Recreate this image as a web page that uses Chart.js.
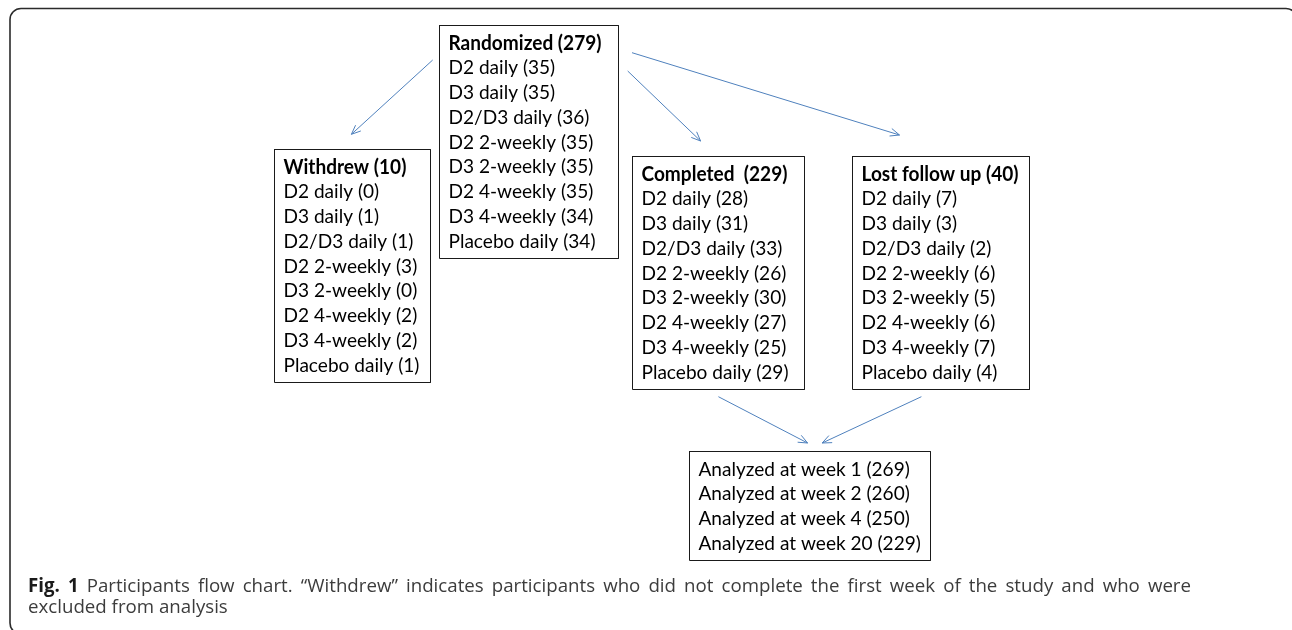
<!DOCTYPE html>
<html>
<head>
<meta charset="utf-8">
<title>Participants flow chart</title>
<script src="https://cdn.jsdelivr.net/npm/chart.js@4.4.1/dist/chart.umd.min.js"></script>
<style>
    html, body { margin: 0; padding: 0; background: #fff; }
    #wrap { position: relative; width: 1292px; height: 630px; }
</style>
</head>
<body>
<div id="wrap"><canvas id="flowChart"></canvas></div>
<script>
// flow chart data
const arms = ['D2 daily', 'D3 daily', 'D2/D3 daily', 'D2 2-weekly', 'D3 2-weekly', 'D2 4-weekly', 'D3 4-weekly', 'Placebo daily'];
const randomized = [35, 35, 36, 35, 35, 35, 34, 34];
const withdrew = [0, 1, 1, 3, 0, 2, 2, 1];
const completed = [28, 31, 33, 26, 30, 27, 25, 29];
const lostFollowUp = [7, 3, 2, 6, 5, 6, 7, 4];
const analyzedWeeks = [1, 2, 4, 20];
const analyzedCounts = [269, 260, 250, 229];

const captionBold = 'Fig. 1';
const captionLine1 = 'Participants flow chart. \u201cWithdrew\u201d indicates participants who did not complete the first week of the study and who were';
const captionLine2 = 'excluded from analysis';

const sum = arr => arr.reduce((a, b) => a + b, 0);

function armLines(values) {
    return arms.map((a, i) => `${a} (${values[i]})`);
}

// layout (in chart units; the scales map 0..1292 x 0..630)
const boxes = [
    { title: `Randomized (${sum(randomized)})`, lines: armLines(randomized), x0: 439.5, y0: 25.5, x1: 618.5, y1: 258.5 },
    { title: `Withdrew (${sum(withdrew)})`, lines: armLines(withdrew), x0: 274.5, y0: 149.5, x1: 430.5, y1: 382.5 },
    { title: `Completed  (${sum(completed)})`, lines: armLines(completed), x0: 632.5, y0: 156.5, x1: 804.5, y1: 389.5 },
    { title: `Lost follow up (${sum(lostFollowUp)})`, lines: armLines(lostFollowUp), x0: 852.5, y0: 156.5, x1: 1029.5, y1: 389.5 },
    { title: null, lines: analyzedWeeks.map((w, i) => `Analyzed at week ${w} (${analyzedCounts[i]})`), x0: 689.5, y0: 451.5, x1: 930.5, y1: 560.5 }
];

const arrows = [
    { from: [432.7, 60], to: [351.4, 134.3] },
    { from: [627.7, 71], to: [700.6, 141] },
    { from: [632, 52.7], to: [899.5, 135] },
    { from: [718.4, 396.7], to: [807.6, 443] },
    { from: [921.4, 396.7], to: [822.2, 443] }
];

const BOX_COLOR = '#1a1a1a';
const ARROW_COLOR = '#4f81bd';
const BOX_FONT = 'Lato, "Open Sans", sans-serif';
const CAPTION_FONT = '"Open Sans", "Noto Sans", sans-serif';

function rectPoints(b) {
    return [
        { x: b.x0, y: b.y0 }, { x: b.x1, y: b.y0 },
        { x: b.x1, y: b.y1 }, { x: b.x0, y: b.y1 }, { x: b.x0, y: b.y0 - 0.5 }
    ];
}

function arrowHead(from, to, len, ang) {
    const a = Math.atan2(to[1] - from[1], to[0] - from[0]);
    const w1 = { x: to[0] - len * Math.cos(a - ang), y: to[1] - len * Math.sin(a - ang) };
    const w2 = { x: to[0] - len * Math.cos(a + ang), y: to[1] - len * Math.sin(a + ang) };
    return [w1, { x: to[0], y: to[1] }, w2];
}

const datasets = [];
boxes.forEach(b => {
    datasets.push({ data: rectPoints(b), borderColor: BOX_COLOR, borderWidth: 1 });
});
arrows.forEach(ar => {
    datasets.push({ data: [{ x: ar.from[0], y: ar.from[1] }, { x: ar.to[0], y: ar.to[1] }], borderColor: ARROW_COLOR, borderWidth: 1 });
    datasets.push({ data: arrowHead(ar.from, ar.to, 10, 0.4), borderColor: ARROW_COLOR, borderWidth: 1 });
});
datasets.forEach(d => {
    d.showLine = true;
    d.pointRadius = 0;
    d.fill = false;
    d.tension = 0;
    d.borderJoinStyle = 'miter';
});

// outer rounded frame, drawn before the datasets
const framePlugin = {
    id: 'frame',
    beforeDatasetsDraw(chart) {
        const { ctx, scales: { x, y } } = chart;
        ctx.save();
        ctx.strokeStyle = '#2b2b2b';
        ctx.lineWidth = 1.6;
        ctx.beginPath();
        const l = x.getPixelForValue(10), t = y.getPixelForValue(8.5);
        const r = x.getPixelForValue(1297), b = y.getPixelForValue(634);
        ctx.roundRect(l, t, r - l, b - t, 11);
        ctx.stroke();
        ctx.restore();
    }
};

// box texts and caption
const textPlugin = {
    id: 'texts',
    afterDatasetsDraw(chart) {
        const { ctx, scales: { x, y } } = chart;
        ctx.save();
        ctx.fillStyle = '#000';
        ctx.textBaseline = 'middle';
        ctx.font = `20px ${BOX_FONT}`;
        // squeeze to Calibri-like width
        const sx = 147 / ctx.measureText('Placebo daily (34)').width;
        const lineGap = 24.75;

        boxes.forEach(b => {
            const rows = b.title ? [b.title].concat(b.lines) : b.lines.slice();
            const left = x.getPixelForValue(b.x0 + 9);
            rows.forEach((txt, i) => {
                const cy = y.getPixelForValue(b.y0 + 17.6 + i * lineGap);
                ctx.font = (b.title && i === 0) ? `bold 20px ${BOX_FONT}` : `20px ${BOX_FONT}`;
                ctx.save();
                ctx.translate(left, cy);
                ctx.scale(sx, 1);
                ctx.fillText(txt, 0, 0);
                ctx.restore();
            });
        });

        // caption, first line justified
        const capLeft = x.getPixelForValue(28);
        const capRight = x.getPixelForValue(1191);
        ctx.font = `16px ${CAPTION_FONT}`;
        const capSize = 16 * 200 / ctx.measureText(captionLine2).width;
        const boldFont = `bold ${capSize}px ${CAPTION_FONT}`;
        const normFont = `${capSize}px ${CAPTION_FONT}`;
        const words = captionBold.split(' ').map(w => ({ w, bold: true }))
            .concat(captionLine1.split(' ').map(w => ({ w, bold: false })));
        let total = 0;
        words.forEach(o => {
            ctx.font = o.bold ? boldFont : normFont;
            o.width = ctx.measureText(o.w).width;
            total += o.width;
        });
        const gap = (capRight - capLeft - total) / (words.length - 1);
        let cx = capLeft;
        const y1 = y.getPixelForValue(587);
        words.forEach(o => {
            ctx.font = o.bold ? boldFont : normFont;
            ctx.fillStyle = o.bold ? '#1a1a1a' : '#3c3c3c';
            ctx.fillText(o.w, cx, y1);
            cx += o.width + gap;
        });
        ctx.font = normFont;
        ctx.fillStyle = '#3c3c3c';
        ctx.fillText(captionLine2, capLeft, y.getPixelForValue(608));
        ctx.restore();
    }
};

const ctx = document.getElementById('flowChart').getContext('2d');
const flowChart = new Chart(ctx, {
    type: 'scatter',
    data: { datasets },
    options: {
        responsive: true,
        maintainAspectRatio: false,
        animation: false,
        layout: { padding: 0 },
        plugins: {
            legend: { display: false },
            tooltip: { enabled: false }
        },
        scales: {
            x: { type: 'linear', min: 0, max: 1292, display: false },
            y: { type: 'linear', min: 0, max: 630, reverse: true, display: false }
        }
    },
    plugins: [framePlugin, textPlugin]
});
</script>
</body>
</html>
